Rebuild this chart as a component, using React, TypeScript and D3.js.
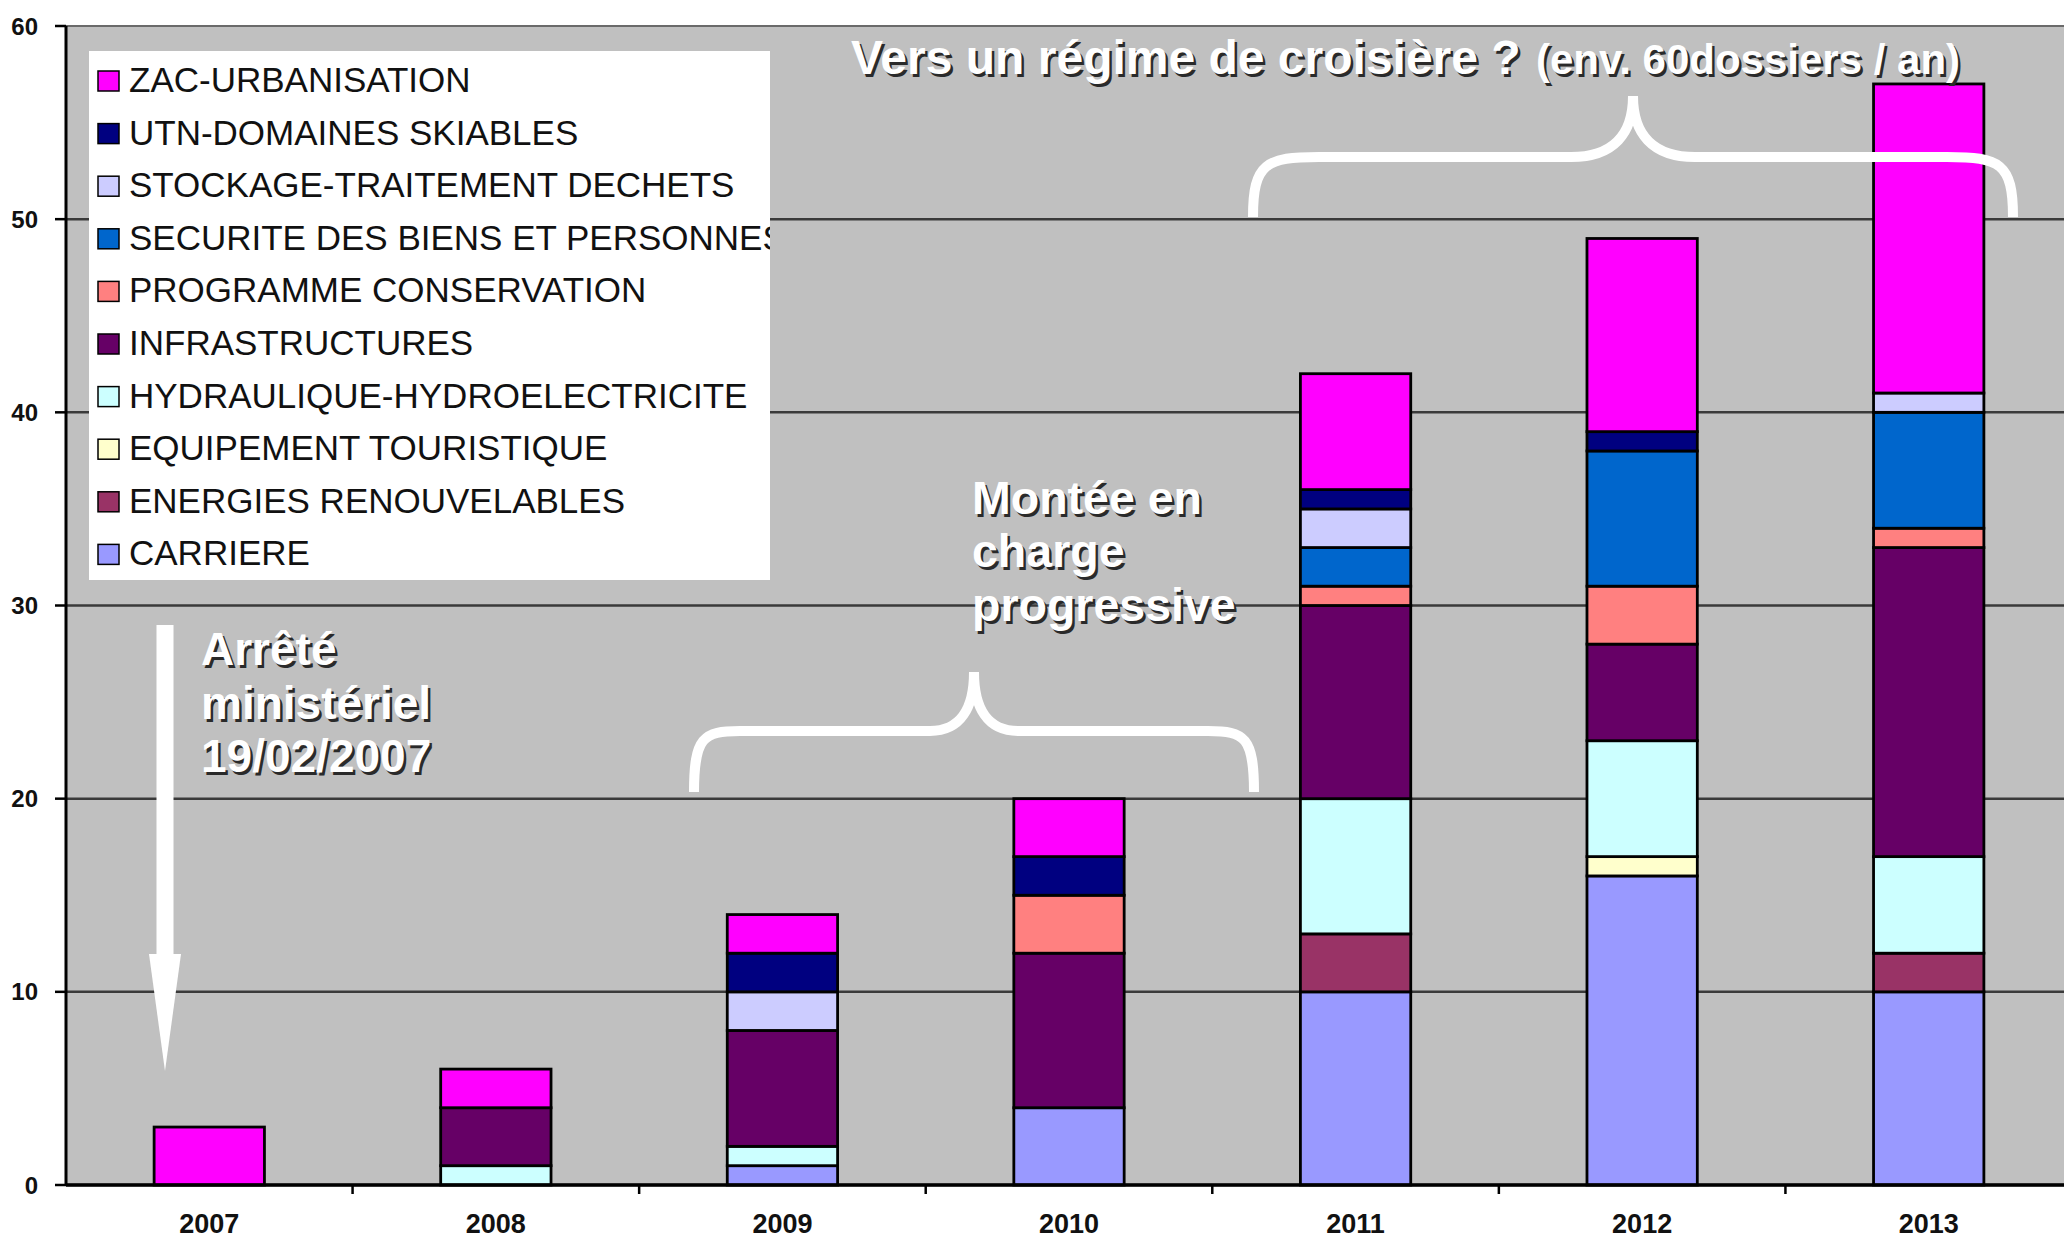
import React from "react";
import * as d3 from "d3";

const years = ["2007", "2008", "2009", "2010", "2011", "2012", "2013"];

// stacking order, bottom to top
const seriesKeys = [
  "CARRIERE",
  "ENERGIES RENOUVELABLES",
  "EQUIPEMENT TOURISTIQUE",
  "HYDRAULIQUE-HYDROELECTRICITE",
  "INFRASTRUCTURES",
  "PROGRAMME CONSERVATION",
  "SECURITE DES BIENS ET PERSONNES",
  "STOCKAGE-TRAITEMENT DECHETS",
  "UTN-DOMAINES SKIABLES",
  "ZAC-URBANISATION",
];

const seriesColors = [
  "#9999FF",
  "#993366",
  "#FFFFCC",
  "#CCFFFF",
  "#660066",
  "#FF8080",
  "#0066CC",
  "#CCCCFF",
  "#000080",
  "#FF00FF",
];

const carriere = [0, 0, 1, 4, 10, 16, 10];
const energies = [0, 0, 0, 0, 3, 0, 2];
const equipement = [0, 0, 0, 0, 0, 1, 0];
const hydraulique = [0, 1, 1, 0, 7, 6, 5];
const infrastructures = [0, 3, 6, 8, 10, 5, 16];
const programme = [0, 0, 0, 3, 1, 3, 1];
const securite = [0, 0, 0, 0, 2, 7, 6];
const stockage = [0, 0, 2, 0, 2, 0, 1];
const utn = [0, 0, 2, 2, 1, 1, 0];
const zac = [3, 2, 2, 3, 6, 10, 16];

const seriesValues = [
  carriere,
  energies,
  equipement,
  hydraulique,
  infrastructures,
  programme,
  securite,
  stockage,
  utn,
  zac,
];

const yTicks = [0, 10, 20, 30, 40, 50, 60];

const W = 2064;
const H = 1242;
const plotL = 66;
const plotR = 2072;
const plotT = 26;
const plotB = 1185;

function ShadowText({ x, y, size, children, anchor = "start" }: any) {
  const common = {
    fontFamily: "'Liberation Sans', Arial, sans-serif",
    fontWeight: 700,
    fontSize: size,
    textAnchor: anchor,
  } as any;
  return (
    <g>
      <text x={x + 2.5} y={y + 2.5} fill="#2a2a2a" {...common}>
        {children}
      </text>
      <text x={x} y={y} fill="#ffffff" {...common}>
        {children}
      </text>
    </g>
  );
}

export default function App() {
  const x = d3.scaleBand<string>().domain(years).range([plotL, plotR]).padding(0);
  const y = d3.scaleLinear().domain([0, 60]).range([plotB, plotT]);
  const barW = x.bandwidth() * 0.385;

  const table = years.map((yr, i) => {
    const row: any = { year: yr };
    seriesKeys.forEach((k, j) => (row[k] = seriesValues[j][i]));
    return row;
  });
  const stacked = d3.stack<any>().keys(seriesKeys)(table);

  const legendItems = seriesKeys
    .map((k, i) => ({ k, c: seriesColors[i] }))
    .reverse();

  const brace = (
    x0: number,
    x1: number,
    yEnd: number,
    yMid: number,
    yTip: number,
    r: number,
    hw: number
  ) => {
    const xm = (x0 + x1) / 2;
    const p = d3.path();
    p.moveTo(x0, yEnd);
    p.bezierCurveTo(x0, yEnd - (yEnd - yMid) * 0.9, x0 + r * 0.2, yMid, x0 + r, yMid);
    p.lineTo(xm - hw, yMid);
    p.bezierCurveTo(xm - hw * 0.3, yMid, xm, yMid - (yMid - yTip) * 0.4, xm, yTip);
    p.bezierCurveTo(xm, yMid - (yMid - yTip) * 0.4, xm + hw * 0.3, yMid, xm + hw, yMid);
    p.lineTo(x1 - r, yMid);
    p.bezierCurveTo(x1 - r * 0.2, yMid, x1, yEnd - (yEnd - yMid) * 0.9, x1, yEnd);
    return p.toString();
  };

  const arrowX = 165;
  const arrowTop = 625;
  const headTop = 954;
  const tip = 1071;

  return (
    <svg
      width={W}
      height={H}
      style={{ position: "absolute", left: 0, top: 0, background: "#fff" }}
    >
      <defs>
        <clipPath id="legclip">
          <rect x={89} y={51} width={681} height={529} />
        </clipPath>
      </defs>
      <rect x={0} y={0} width={W} height={H} fill="#ffffff" />
      <rect x={plotL} y={plotT} width={W - plotL} height={plotB - plotT} fill="#C0C0C0" />

      {/* gridlines */}
      {yTicks.map((t) => (
        <line
          key={t}
          x1={plotL}
          x2={W}
          y1={y(t)}
          y2={y(t)}
          stroke={t === 60 ? "#6a6a6a" : "#3a3a3a"}
          strokeWidth={t === 60 ? 2 : 2.5}
        />
      ))}

      {/* bars */}
      {stacked.map((s, j) => (
        <g key={s.key}>
          {s.map((d, i) => {
            if (d[1] - d[0] <= 0) return null;
            const cx = (x(years[i]) as number) + x.bandwidth() / 2;
            return (
              <rect
                key={i}
                x={cx - barW / 2}
                y={y(d[1])}
                width={barW}
                height={y(d[0]) - y(d[1])}
                fill={seriesColors[j]}
                stroke="#000"
                strokeWidth={2.8}
              />
            );
          })}
        </g>
      ))}

      {/* y axis */}
      <line x1={plotL} x2={plotL} y1={plotT} y2={plotB} stroke="#000" strokeWidth={3} />
      {yTicks.map((t) => (
        <g key={"yt" + t}>
          <line x1={plotL - 11} x2={plotL} y1={y(t)} y2={y(t)} stroke="#000" strokeWidth={2.5} />
          <text
            x={38}
            y={y(t) + 8.5}
            textAnchor="end"
            fontFamily="'Liberation Sans', Arial, sans-serif"
            fontWeight={700}
            fontSize={24}
            fill="#111"
          >
            {t}
          </text>
        </g>
      ))}

      {/* x axis */}
      <line x1={plotL} x2={W} y1={plotB} y2={plotB} stroke="#000" strokeWidth={3.5} />
      {years.map((yr, i) =>
        i > 0 ? (
          <line
            key={"xt" + yr}
            x1={x(yr) as number}
            x2={x(yr) as number}
            y1={plotB}
            y2={plotB + 9}
            stroke="#000"
            strokeWidth={2.5}
          />
        ) : null
      )}
      {years.map((yr) => (
        <text
          key={"xl" + yr}
          x={(x(yr) as number) + x.bandwidth() / 2}
          y={1233}
          textAnchor="middle"
          fontFamily="'Liberation Sans', Arial, sans-serif"
          fontWeight={700}
          fontSize={27}
          fill="#111"
        >
          {yr}
        </text>
      ))}

      {/* legend */}
      <rect x={89} y={51} width={681} height={529} fill="#ffffff" />
      <g clipPath="url(#legclip)">
        {legendItems.map((it, i) => {
          const ry = 71 + i * 52.6;
          return (
            <g key={it.k}>
              <rect x={98} y={ry} width={21} height={20} fill={it.c} stroke="#000" strokeWidth={1.5} />
              <text
                x={129}
                y={ry + 21}
                fontFamily="'Liberation Sans', Arial, sans-serif"
                fontSize={35}
                fill="#111"
              >
                {it.k}
              </text>
            </g>
          );
        })}
      </g>

      {/* arrow */}
      <rect x={arrowX - 8.5} y={arrowTop} width={17} height={headTop - arrowTop + 2} fill="#fff" />
      <path
        d={`M${arrowX - 16},${headTop} L${arrowX + 16},${headTop} L${arrowX},${tip} Z`}
        fill="#fff"
      />

      {/* annotations */}
      <ShadowText x={201} y={665} size={46}>Arrêté</ShadowText>
      <ShadowText x={201} y={719} size={46}>ministériel</ShadowText>
      <ShadowText x={201} y={772} size={46}>19/02/2007</ShadowText>

      <ShadowText x={972} y={514} size={46.5}>Montée en</ShadowText>
      <ShadowText x={972} y={567} size={46.5}>charge</ShadowText>
      <ShadowText x={972} y={621} size={46.5}>progressive</ShadowText>

      <ShadowText x={851} y={74} size={48}>Vers un régime de croisière ?</ShadowText>
      <ShadowText x={1536} y={74} size={42}>(env. 60dossiers / an)</ShadowText>

      {/* braces */}
      <path
        d={brace(694, 1254, 792, 731, 672, 46, 44)}
        fill="none"
        stroke="#fff"
        strokeWidth={10}
      />
      <path
        d={brace(1253, 2013, 217, 157, 96, 66, 62)}
        fill="none"
        stroke="#fff"
        strokeWidth={10}
      />
    </svg>
  );
}
